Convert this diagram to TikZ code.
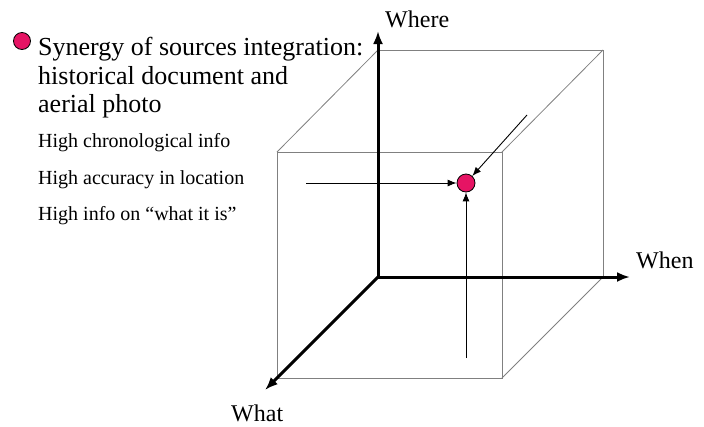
\documentclass[tikz,border=0pt]{standalone}
\usepackage{fontspec}
\setmainfont{Liberation Serif}
\usetikzlibrary{arrows, arrows.meta, positioning}
\definecolor{dotred}{RGB}{230,20,100}

\begin{document}
\begin{tikzpicture}
	[x=1pt, y=-1pt, inner sep=0pt,
	 edgeline/.style={draw=gray, line width=0.8pt},
	 axis/.style={line width=3pt, -{Latex[length=13pt, width=10pt]}},
	 pointer/.style={line width=0.9pt, -{Latex[length=9pt, width=7pt]}},
	 mark dot/.style={circle, draw=black, line width=0.8pt, fill=dotred, minimum size=#1},
	 bigtext/.style={anchor=base west, font=\fontsize{26}{28}\selectfont},
	 smalltext/.style={anchor=base west, font=\fontsize{20}{22}\selectfont},
	 axislabel/.style={anchor=base west, font=\fontsize{24}{26}\selectfont}]
   \useasboundingbox (0,0) rectangle (704,426);
   % cube corners
   \coordinate (o)   at (378,277);
   \coordinate (btl) at (378,50);
   \coordinate (btr) at (603,50);
   \coordinate (bbr) at (603,277);
   \coordinate (ftl) at (277,152);
   \coordinate (ftr) at (502,152);
   \coordinate (fbr) at (502,378);
   \coordinate (fbl) at (277,378);
   \draw[edgeline] (btl) -- (btr) -- (bbr);
   \draw[edgeline] (ftl) rectangle (fbr);
   \draw[edgeline] (btl) -- (ftl) (btr) -- (ftr) (bbr) -- (fbr);
   % axes
   \coordinate (where) at (378,31);
   \coordinate (when)  at (630,277);
   \coordinate (what)  at (265,390);
   \draw[axis] (o) -- (where);
   \draw[axis] (o) -- (when);
   \draw[axis] (o) -- (what);
   \node[axislabel] (l_where) at (385,27)  {Where};
   \node[axislabel] (l_when)  at (636,268) {When};
   \node[axislabel] (l_what)  at (231,421) {What};
   % the point
   \node[mark dot=18pt] (p) at (466,183) {};
   \coordinate (p_left)  at (306,183);
   \coordinate (p_back)  at (527,115);
   \coordinate (p_below) at (466,358);
   \path[pointer]
    (p_left)  edge (p)
    (p_back)  edge (p)
    (p_below) edge (p);
   % legend
   \node[mark dot=17pt] (bullet) at (22,41) {};
   \node[bigtext] (t_1) at (38,55)  {Synergy of sources integration:};
   \node[bigtext] (t_2) at (38,84)  {historical document and};
   \node[bigtext] (t_3) at (38,112) {aerial photo};
   \node[smalltext] (s_1) at (38,147) {High chronological info};
   \node[smalltext] (s_2) at (38,184) {High accuracy in location};
   \node[smalltext] (s_3) at (38,220) {High info on “what it is”};
\end{tikzpicture}
\end{document}
